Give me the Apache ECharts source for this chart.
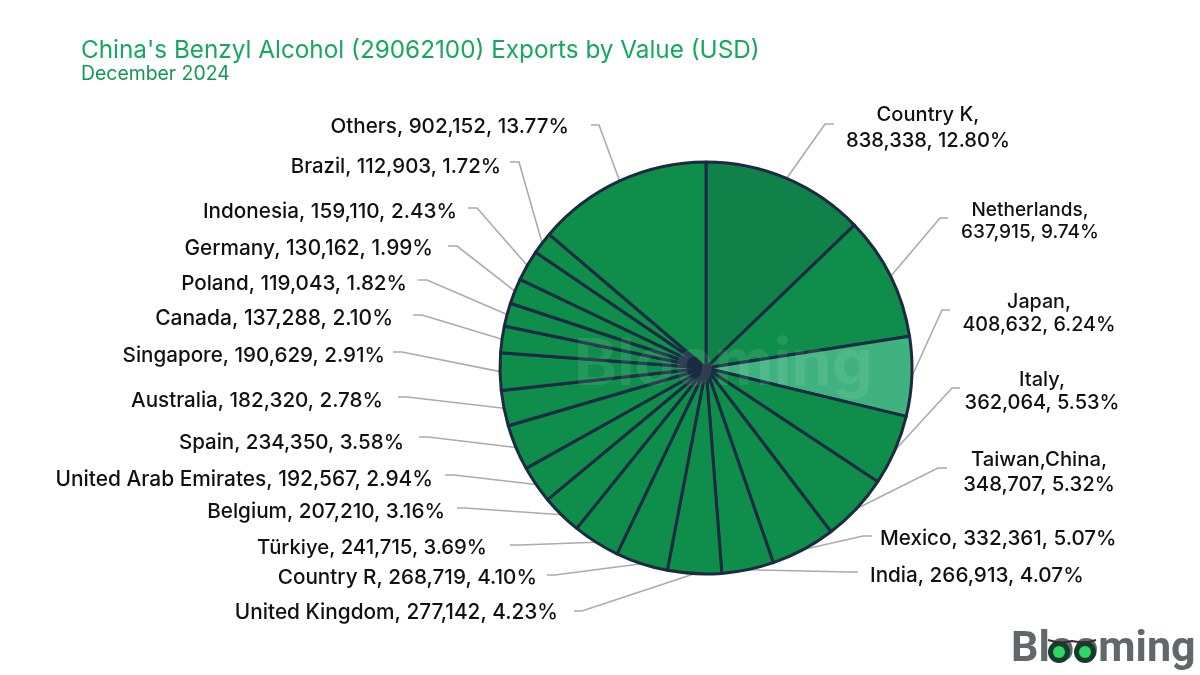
<!DOCTYPE html>
<html><head><meta charset="utf-8"><style>html,body{margin:0;background:#fff}#c{width:1200px;height:675px}</style>
<script src="https://cdn.jsdelivr.net/npm/echarts@6/dist/echarts.min.js"></script></head>
<body><div id="c"></div><script>
const categories=["Country K","Netherlands","Japan","Italy","Taiwan,China","Mexico","India","United Kingdom","Country R","Türkiye","Belgium","United Arab Emirates","Spain","Australia","Singapore","Canada","Poland","Germany","Indonesia","Brazil","Others"];
const exportValues=[838338,637915,408632,362064,348707,332361,266913,277142,268719,241715,207210,192567,234350,182320,190629,137288,119043,130162,159110,112903,902152];
const shareLabels=["12.80%","9.74%","6.24%","5.53%","5.32%","5.07%","4.07%","4.23%","4.10%","3.69%","3.16%","2.94%","3.58%","2.78%","2.91%","2.10%","1.82%","1.99%","2.43%","1.72%","13.77%"];
const twoLineLabels=["Country K","Netherlands","Japan","Italy","Taiwan,China"];
// label anchor [x, y, align]
const labelSpots=[[928,128,'center'],[1030,221,'center'],[1039,314,'center'],[1042,391,'center'],[1039,472,'center'],[880,539,'left'],[870,576,'left'],[558,613,'right'],[537,578,'right'],[487,548,'right'],[445,512,'right'],[433,480,'right'],[404,443,'right'],[383,401,'right'],[385,356,'right'],[393,319,'right'],[407,284,'right'],[433,249,'right'],[457,212,'right'],[501,167,'right'],[569,127,'right']];
const labelSizes=[20.1,19,19.7,20,20.3,20.6,20.7,20.8,20.7,20.3,20.7,20.9,20.5,20.6,20.6,21,20.6,20.8,20.7,20.4,20.6];
const labelLineHeights=[26,22,23,23,25,25,25,25,25,25,25,25,25,25,25,25,25,25,25,25,25];
// leader stub [elbow x, far x, y]
const stubs=[[825,834,124],[940,948,218],[942,950,310],[952,960,388],[938,947,468],[863,872,536],[850,858,572],[582,574,611],[555,547,575],[520,510,545],[465,457,508],[454,445,475],[428,419,437],[407,398,397],[402,393,352],[422,413,315],[427,418,280],[457,448,246],[477,468,208],[519,510,162],[599,591,125]];
const fmt=n=>n.toLocaleString('en-US');
const fills=categories.map((c,i)=>i===0?'#11814a':i===2?'#3fb27f':'#0e8e4a');
const font='Inter';
const chart=echarts.init(document.getElementById('c'),null,{renderer:'canvas'});
chart.setOption({
 animation:false,backgroundColor:'#fff',
 title:{left:76,top:32,itemGap:-2,text:"China's Benzyl Alcohol (29062100) Exports by Value (USD)",
  textStyle:{color:'#17a85f',fontFamily:font,fontSize:24.3,fontWeight:'normal',lineHeight:28},
  subtext:'December 2024',subtextStyle:{color:'#0f9a50',fontFamily:font,fontSize:19.4,lineHeight:22}},
 series:[{type:'pie',center:[706,368],radius:[0,206],startAngle:90,clockwise:true,avoidLabelOverlap:false,silent:true,
  itemStyle:{borderColor:'#1a2b42',borderWidth:3},
  data:categories.map((name,i)=>({name,value:exportValues[i],itemStyle:{color:fills[i]},
   label:{fontSize:labelSizes[i],lineHeight:labelLineHeights[i]}})),
  label:{show:true,color:'#111',fontFamily:font,fontWeight:500,
   formatter:p=>{const i=p.dataIndex;const sep=twoLineLabels.includes(p.name)?',\n':', ';return p.name+sep+fmt(p.value)+', '+shareLabels[i];}},
  labelLine:{show:true,length:10,length2:10,lineStyle:{color:'#ababab',width:1.6}},
  labelLayout:p=>{const i=p.dataIndex,s=labelSpots[i],t=stubs[i];
   return {x:s[0],y:s[1],align:s[2],verticalAlign:'middle',hideOverlap:false,moveOverlap:false,
    labelLinePoints:[p.labelLinePoints[0],[t[0],t[2]],[t[1],t[2]]]};}
 }],
 graphic:[
  {type:'text',z:50,left:574,top:333,style:{text:'Blooming',fontFamily:'Inter',fontWeight:'bold',fontSize:65,fill:'rgba(255,255,255,0.09)'}},
  {type:'text',z:50,left:1011,top:629,style:{text:'Blooming',fontFamily:'Roboto',fontWeight:'bold',fontSize:43,fill:'#62676b'}},
  {type:'circle',z:51,shape:{cx:1059,cy:652,r:11},style:{fill:'#123d2a'}},
  {type:'circle',z:51,shape:{cx:1085,cy:652,r:11},style:{fill:'#123d2a'}},
  {type:'circle',z:52,shape:{cx:1059,cy:652,r:6},style:{fill:'#2bd765'}},
  {type:'circle',z:52,shape:{cx:1085,cy:652,r:6},style:{fill:'#2bd765'}},
  {type:'polyline',z:53,shape:{points:[[1048,640],[1060,643],[1072,641],[1085,643],[1096,640]]},style:{stroke:'#3a2a30',lineWidth:2,fill:null}}
 ]
});
</script></body></html>
